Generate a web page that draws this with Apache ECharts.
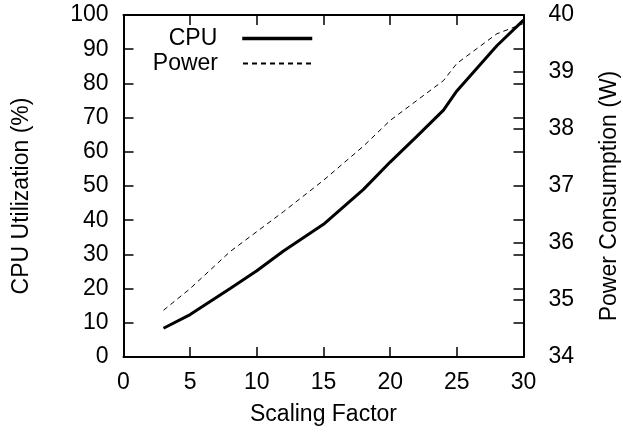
<!DOCTYPE html>
<html>
<head>
<meta charset="utf-8">
<script src="https://cdn.jsdelivr.net/npm/echarts@6/dist/echarts.min.js"></script>
<style>
  html, body { margin: 0; padding: 0; background: #fff; }
  #chart { width: 623px; height: 436px; }
</style>
</head>
<body>
<div id="chart"></div>
<script>
// values
const scaling = [3, 5, 8, 10, 12, 15, 18, 20, 22, 24, 25, 28, 30]
const cpuUtil = [8.4, 12.4, 20, 25.2, 31, 38.8, 49, 57, 64.5, 72.2, 77.8, 91, 98.5]
const power = [34.82, 35.2, 35.85, 36.2, 36.55, 37.1, 37.7, 38.15, 38.5, 38.85, 39.15, 39.67, 39.85]

const leftTicks = { min: 0, max: 100, interval: 10 }
const rightTicks = { min: 34, max: 40, interval: 1 }
const xTicks = { min: 0, max: 30, interval: 5 }

const font = 'Liberation Sans, Arial, Helvetica, sans-serif'
const fs = 23
const black = '#000'

const pair = (xs, ys) => xs.map((x, i) => [x, ys[i]])

const chart = echarts.init(document.getElementById('chart'))

// onZero off, otherwise the mirror axes get pulled to the zero line
const axisLine = (show = true) => ({ show, onZero: false, lineStyle: { color: black, width: 2 } })
const tick = () => ({ show: true, inside: true, length: 10, lineStyle: { color: black, width: 1.5 } })
const gridRect = () => ({ left: 123.5, right: 99.5, top: 15, bottom: 79, outerBoundsMode: 'none' })

const legendBase = {
  orient: 'vertical', right: 304, align: 'right', itemWidth: 70, itemHeight: 14,
  itemStyle: { opacity: 0 },
  textStyle: { fontSize: fs, fontFamily: font, color: black, padding: [0, 20, 0, 0] },
}

chart.setOption({
  animation: false,
  backgroundColor: '#fff',
  textStyle: { fontFamily: font, color: black },
  // grid 1 sits exactly on grid 0 and only carries the mirrored ticks
  grid: [gridRect(), gridRect()],
  legend: [
    { ...legendBase, data: ['CPU'], top: 22, lineStyle: { width: 3.5 } },
    { ...legendBase, data: ['Power'], top: 47 },
  ],
  xAxis: [
    {
      type: 'value', ...xTicks, gridIndex: 0, position: 'bottom',
      name: 'Scaling Factor', nameLocation: 'middle', nameGap: 46,
      nameTextStyle: { fontSize: fs, fontFamily: font, color: black },
      axisLine: axisLine(), axisTick: tick(), splitLine: { show: false },
      axisLabel: { fontSize: fs, fontFamily: font, color: black, margin: 14 },
    },
    {
      type: 'value', ...xTicks, gridIndex: 1, position: 'top',
      axisLine: axisLine(), axisTick: tick(), splitLine: { show: false },
      axisLabel: { show: false },
    },
  ],
  yAxis: [
    {
      type: 'value', ...leftTicks, gridIndex: 0, position: 'left',
      name: 'CPU Utilization (%)', nameLocation: 'middle', nameGap: 90,
      nameTextStyle: { fontSize: fs, fontFamily: font, color: black, padding: [0, 20, 0, 0] },
      axisLine: axisLine(), axisTick: tick(), splitLine: { show: false },
      axisLabel: { fontSize: fs, fontFamily: font, color: black, margin: 15 },
    },
    {
      type: 'value', ...rightTicks, gridIndex: 0, position: 'right',
      name: 'Power Consumption (W)', nameLocation: 'middle', nameGap: 75,
      nameTextStyle: { fontSize: fs, fontFamily: font, color: black, padding: [0, 20, 0, 0] },
      axisLine: axisLine(), axisTick: tick(), splitLine: { show: false },
      axisLabel: { fontSize: fs, fontFamily: font, color: black, margin: 25 },
    },
    {
      type: 'value', ...leftTicks, gridIndex: 1, position: 'right',
      axisLine: axisLine(false), axisTick: tick(), splitLine: { show: false },
      axisLabel: { show: false },
    },
  ],
  series: [
    {
      name: 'CPU', type: 'line', xAxisIndex: 0, yAxisIndex: 0,
      data: pair(scaling, cpuUtil), symbol: 'none',
      lineStyle: { color: black, width: 3 }, itemStyle: { color: black },
    },
    {
      name: 'Power', type: 'line', xAxisIndex: 0, yAxisIndex: 1,
      data: pair(scaling, power), symbol: 'none',
      lineStyle: { color: black, width: 1, type: [5, 4] }, itemStyle: { color: black },
    },
  ],
})
</script>
</body>
</html>
